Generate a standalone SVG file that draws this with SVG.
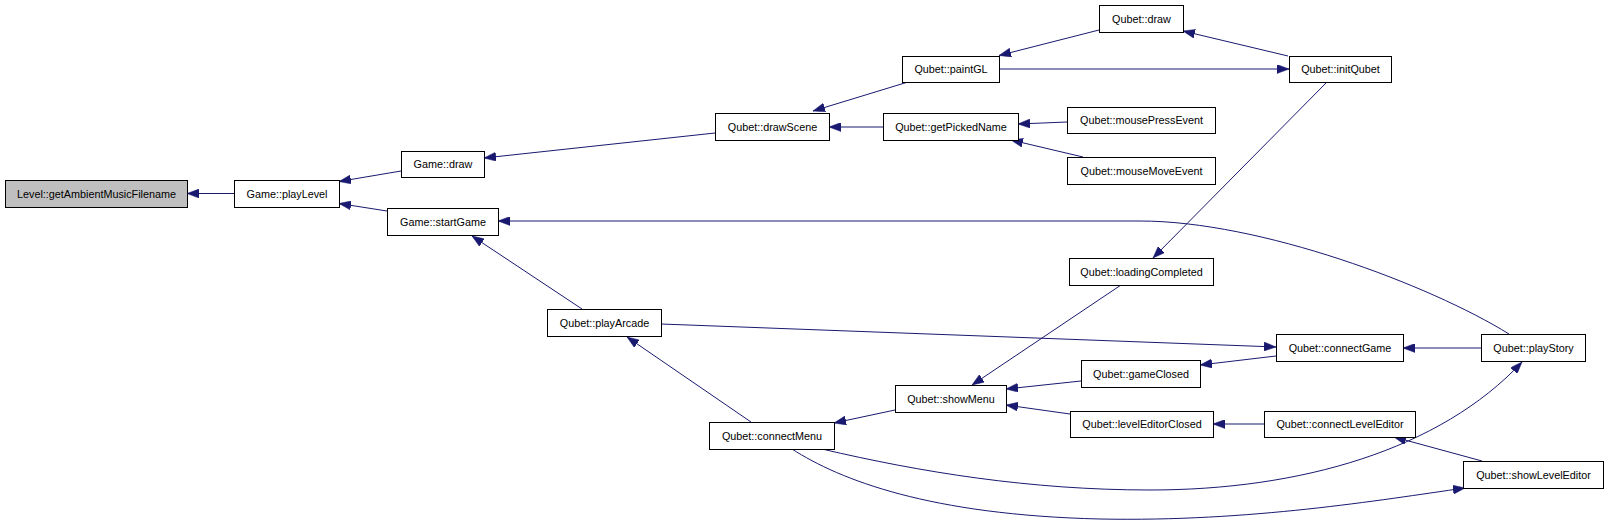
<svg xmlns="http://www.w3.org/2000/svg" width="1608" height="525" viewBox="0 0 1608 525">
<style>
  .n rect { fill: #ffffff; stroke: #000000; stroke-width: 1; }
  .n.root rect { fill: #bfbfbf; }
  .n text { font-family: "Liberation Sans", Arial, sans-serif; font-size: 10.8px; fill: #000000; text-anchor: middle; }
  .e path { fill: none; stroke: #191970; stroke-width: 1; marker-end: url(#arr); }
</style>
<defs>
  <marker id="arr" markerUnits="userSpaceOnUse" markerWidth="12" markerHeight="9" refX="12" refY="4.5" orient="auto">
    <path d="M0,0 L12,4.5 L0,9 z" fill="#191970" stroke="#191970" stroke-width="0.5"/>
  </marker>
</defs>
<rect width="1608" height="525" fill="#ffffff"/>
<g id="edges" class="e">
  <path d="M234,193.5 L187,193.5"/>
  <path d="M401,171 L339,181.5"/>
  <path d="M387,211 L339,203.5"/>
  <path d="M715,133 L484,158"/>
  <path d="M1509,334 C1430,285 1260,221 1140,221 L498,221"/>
  <path d="M582,309 L472,236"/>
  <path d="M908,82 L813,111"/>
  <path d="M883,127 L829,127"/>
  <path d="M1099,30 L999,55.5"/>
  <path d="M999,69 L1289,69"/>
  <path d="M1288,56 L1183,31"/>
  <path d="M1067,122 L1018,124"/>
  <path d="M1083,157 L1011,140"/>
  <path d="M1327,82 L1153,258"/>
  <path d="M661,324 L1276,347"/>
  <path d="M1121,285 L972,385"/>
  <path d="M1276,356 L1200,365"/>
  <path d="M1481,348 L1403,348"/>
  <path d="M1081,381 L1006,389"/>
  <path d="M1070,414 L1006,405"/>
  <path d="M1264,424 L1213,424"/>
  <path d="M1482,461 L1394,437"/>
  <path d="M895,410 L834,423"/>
  <path d="M751,422 L627,337"/>
  <path d="M822,449 C920,472 1030,490 1150,490 C1300,490 1440,450 1522,362"/>
  <path d="M792,449 C840,480 930,515 1100,519 C1250,522 1380,500 1465,488"/>
</g>
<g id="getAmbientMusicFilename" class="n root"><rect x="5.5" y="180.5" width="182" height="27"/><text x="96.5" y="197.5">Level::getAmbientMusicFilename</text></g>
<g id="playLevel" class="n"><rect x="234.5" y="180.5" width="105" height="27"/><text x="287" y="197.5">Game::playLevel</text></g>
<g id="gameDraw" class="n"><rect x="401.5" y="151.5" width="83" height="26"/><text x="443" y="168">Game::draw</text></g>
<g id="startGame" class="n"><rect x="387.5" y="208.5" width="111" height="27"/><text x="443" y="225.5">Game::startGame</text></g>
<g id="drawScene" class="n"><rect x="715.5" y="113.5" width="114" height="27"/><text x="772.5" y="130.5">Qubet::drawScene</text></g>
<g id="paintGL" class="n"><rect x="902.5" y="56.5" width="97" height="26"/><text x="951" y="73">Qubet::paintGL</text></g>
<g id="getPickedName" class="n"><rect x="883.5" y="113.5" width="135" height="27"/><text x="951" y="130.5">Qubet::getPickedName</text></g>
<g id="qubetDraw" class="n"><rect x="1099.5" y="5.5" width="84" height="27"/><text x="1141.5" y="22.5">Qubet::draw</text></g>
<g id="initQubet" class="n"><rect x="1289.5" y="56.5" width="102" height="26"/><text x="1340.5" y="73">Qubet::initQubet</text></g>
<g id="mousePressEvent" class="n"><rect x="1067.5" y="107.5" width="148" height="26"/><text x="1141.5" y="124">Qubet::mousePressEvent</text></g>
<g id="mouseMoveEvent" class="n"><rect x="1067.5" y="157.5" width="148" height="27"/><text x="1141.5" y="174.5">Qubet::mouseMoveEvent</text></g>
<g id="loadingCompleted" class="n"><rect x="1069.5" y="258.5" width="144" height="27"/><text x="1141.5" y="275.5">Qubet::loadingCompleted</text></g>
<g id="playArcade" class="n"><rect x="547.5" y="309.5" width="114" height="27"/><text x="604.5" y="326.5">Qubet::playArcade</text></g>
<g id="connectGame" class="n"><rect x="1276.5" y="334.5" width="127" height="27"/><text x="1340" y="351.5">Qubet::connectGame</text></g>
<g id="playStory" class="n"><rect x="1481.5" y="334.5" width="104" height="27"/><text x="1533.5" y="351.5">Qubet::playStory</text></g>
<g id="showMenu" class="n"><rect x="895.5" y="385.5" width="111" height="27"/><text x="951" y="402.5">Qubet::showMenu</text></g>
<g id="gameClosed" class="n"><rect x="1081.5" y="360.5" width="119" height="27"/><text x="1141" y="377.5">Qubet::gameClosed</text></g>
<g id="connectMenu" class="n"><rect x="709.5" y="422.5" width="125" height="27"/><text x="772" y="439.5">Qubet::connectMenu</text></g>
<g id="levelEditorClosed" class="n"><rect x="1070.5" y="411.5" width="143" height="26"/><text x="1142" y="428">Qubet::levelEditorClosed</text></g>
<g id="connectLevelEditor" class="n"><rect x="1264.5" y="411.5" width="151" height="26"/><text x="1340" y="428">Qubet::connectLevelEditor</text></g>
<g id="showLevelEditor" class="n"><rect x="1463.5" y="461.5" width="140" height="27"/><text x="1533.5" y="478.5">Qubet::showLevelEditor</text></g>
</svg>
